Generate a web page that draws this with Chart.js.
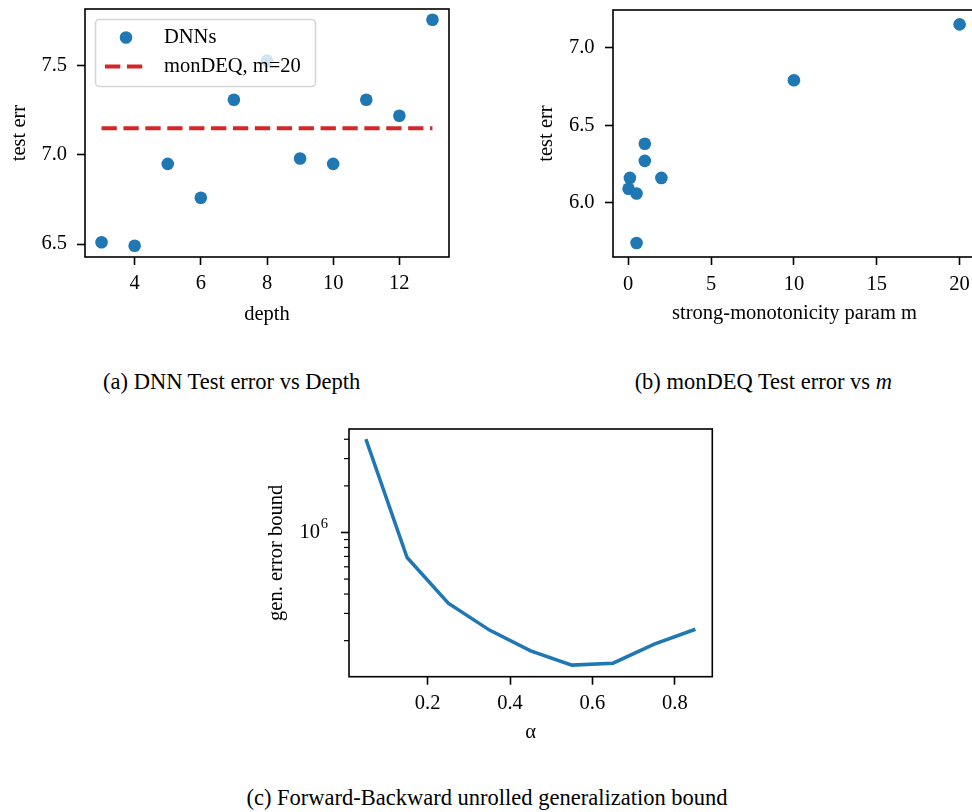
<!DOCTYPE html>
<html><head><meta charset="utf-8">
<script src="https://cdn.jsdelivr.net/npm/chart.js@4/dist/chart.umd.min.js"></script>
<style>
html,body{margin:0;padding:0;background:#fff;width:972px;height:812px;overflow:hidden;position:relative;}
canvas{position:absolute;}
.cap{position:absolute;font-family:'Liberation Serif','Times New Roman',serif;font-size:22.5px;line-height:22.5px;white-space:nowrap;transform:translateX(-50%);color:#000;}
</style></head><body>
<canvas id="ca" width="460" height="340" style="left:0;top:0"></canvas>
<canvas id="cb" width="470" height="340" style="left:520px;top:0"></canvas>
<canvas id="cc" width="470" height="340" style="left:260px;top:420px"></canvas>
<div class="cap" style="left:231.7px;top:370.5px">(a) DNN Test error vs Depth</div>
<div class="cap" style="left:763.3px;top:370.5px">(b) monDEQ Test error vs <i>m</i></div>
<div class="cap" style="left:487px;top:787px">(c) Forward-Backward unrolled generalization bound</div>
<script>
// ---- (a) DNN test error vs depth ----
const depths = [3, 4, 5, 6, 7, 8, 9, 10, 11, 12, 13];
const dnnErr = [6.51, 6.49, 6.95, 6.76, 7.31, 7.53, 6.98, 6.95, 7.31, 7.22, 7.76];
const mondeqM20Err = 7.15;
const xTicksA = [4, 6, 8, 10, 12];
const yTicksA = [6.5, 7.0, 7.5];

// ---- (b) monDEQ test error vs m ----
const mParams = [20, 10, 1, 1, 0.1, 2, 0.02, 0.5, 0.5];
const mondeqErr = [7.15, 6.79, 6.38, 6.27, 6.16, 6.16, 6.09, 6.06, 5.74];
const xTicksB = [0, 5, 10, 15, 20];
const yTicksB = [6.0, 6.5, 7.0];

// ---- (c) generalization bound vs alpha ----
const alphas = [0.05, 0.15, 0.25, 0.35, 0.45, 0.55, 0.65, 0.75, 0.85];
const genBound = [4.01e6, 6.89e5, 3.49e5, 2.34e5, 1.72e5, 1.39e5, 1.43e5, 1.90e5, 2.37e5];
const xTicksC = [0.2, 0.4, 0.6, 0.8];
const yMajorTicksC = [1e6];
const yMinorTicksC = [2e5, 3e5, 4e5, 5e5, 6e5, 7e5, 8e5, 9e5, 2e6, 3e6, 4e6];

const BLUE = '#1f77b4', RED = '#d62728';
const FS = 20.5;
Chart.defaults.font.family = "'Liberation Serif','Times New Roman',serif";
Chart.defaults.font.size = FS;
Chart.defaults.color = '#000';

function axis(o) {
  return {
    type: o.type || 'linear',
    min: o.min, max: o.max,
    afterBuildTicks: s => { s.ticks = o.ticks.map(v => ({ value: v })); },
    afterFit: s => {
      if (o.horiz) s.height = o.size; else s.width = o.size;
      s.paddingTop = 0; s.paddingBottom = 0; s.paddingLeft = 0; s.paddingRight = 0;
    },
    grid: { display: true, drawOnChartArea: false, drawTicks: true, tickLength: 8, tickWidth: 1.6, tickColor: '#000' },
    border: { display: false },
    ticks: { color: '#000', font: { size: FS }, padding: o.pad, autoSkip: false, maxRotation: 0, callback: o.cb },
    title: { display: true, text: o.title, color: '#000', font: { size: FS }, padding: o.horiz ? { top: 0, bottom: o.tpad } : { top: o.tpad, bottom: 0 } }
  };
}

const framePlugin = {
  id: 'frame',
  afterDatasetsDraw(chart) {
    const a = chart.chartArea, ctx = chart.ctx;
    ctx.save();
    ctx.strokeStyle = '#000'; ctx.lineWidth = 1.6;
    ctx.strokeRect(a.left, a.top, a.right - a.left, a.bottom - a.top);
    ctx.restore();
  }
};

const legendPlugin = {
  id: 'legendA',
  afterDatasetsDraw(chart) {
    const a = chart.chartArea, ctx = chart.ctx;
    const x0 = a.left + 10.5, y0 = a.top + 10.5, w = 220, h = 67;
    ctx.save();
    ctx.beginPath();
    ctx.roundRect(x0, y0, w, h, 4);
    ctx.fillStyle = 'rgba(255,255,255,0.8)';
    ctx.fill();
    ctx.strokeStyle = 'rgba(204,204,204,0.8)';
    ctx.lineWidth = 1.6;
    ctx.stroke();
    const ds = chart.data.datasets;
    // scatter handle
    ctx.beginPath();
    ctx.arc(x0 + 30.5, y0 + 18, 6.3, 0, Math.PI * 2);
    ctx.fillStyle = ds[0].backgroundColor;
    ctx.fill();
    // dashed handle
    ctx.beginPath();
    ctx.setLineDash(ds[1].borderDash);
    ctx.strokeStyle = ds[1].borderColor;
    ctx.lineWidth = ds[1].borderWidth;
    ctx.moveTo(x0 + 9.5, y0 + 47);
    ctx.lineTo(x0 + 51.5, y0 + 47);
    ctx.stroke();
    ctx.setLineDash([]);
    ctx.fillStyle = '#000';
    ctx.font = FS + "px 'Liberation Serif','Times New Roman',serif";
    ctx.textBaseline = 'middle';
    ctx.textAlign = 'left';
    ctx.fillText(ds[0].label, x0 + 68.5, y0 + 18);
    ctx.fillText(ds[1].label, x0 + 68.5, y0 + 47);
    ctx.restore();
  }
};

new Chart(document.getElementById('ca'), {
  type: 'scatter',
  data: {
    datasets: [
      { label: 'DNNs', data: depths.map((d, i) => ({ x: d, y: dnnErr[i] })), backgroundColor: BLUE, borderWidth: 0, pointRadius: 6.3, pointHoverRadius: 6.3 },
      { type: 'line', label: 'monDEQ, m=20', data: [{ x: depths[0], y: mondeqM20Err }, { x: depths[depths.length - 1], y: mondeqM20Err }],
        borderColor: RED, borderWidth: 4.1, borderDash: [15.3, 6.6], pointRadius: 0, fill: false, borderCapStyle: 'butt' }
    ]
  },
  options: {
    responsive: false, animation: false, devicePixelRatio: 1,
    layout: { padding: { top: 9, right: 11, left: 0, bottom: 0 } },
    plugins: { legend: { display: false }, tooltip: { enabled: false } },
    scales: {
      x: axis({ horiz: true, size: 83, min: 2.5, max: 13.5, ticks: xTicksA, pad: 6.4, tpad: 13.1, title: 'depth', cb: v => String(v) }),
      y: axis({ size: 85, min: 6.427, max: 7.82, ticks: yTicksA, pad: 10, tpad: 7.5, title: 'test err', cb: v => v.toFixed(1) })
    }
  },
  plugins: [framePlugin, legendPlugin]
});

new Chart(document.getElementById('cb'), {
  type: 'scatter',
  data: {
    datasets: [
      { label: 'monDEQ', data: mParams.map((m, i) => ({ x: m, y: mondeqErr[i] })), backgroundColor: BLUE, borderWidth: 0, pointRadius: 6.3, pointHoverRadius: 6.3 }
    ]
  },
  options: {
    responsive: false, animation: false, devicePixelRatio: 1,
    layout: { padding: { top: 10, right: 14, left: 0, bottom: 0 } },
    plugins: { legend: { display: false }, tooltip: { enabled: false } },
    scales: {
      x: axis({ horiz: true, size: 83, min: -0.92, max: 20.99, ticks: xTicksB, pad: 7.2, tpad: 14.1, title: 'strong-monotonicity param m', cb: v => String(v) }),
      y: axis({ size: 93, min: 5.65, max: 7.243, ticks: yTicksB, pad: 10.5, tpad: 14.1, title: 'test err', cb: v => v.toFixed(1) })
    }
  },
  plugins: [framePlugin]
});

const logExtras = {
  id: 'logExtras',
  afterDraw(chart) {
    const ys = chart.scales.y, a = chart.chartArea, ctx = chart.ctx;
    ctx.save();
    ctx.strokeStyle = '#000'; ctx.lineWidth = 1.2;
    yMinorTicksC.forEach(v => {
      const y = ys.getPixelForValue(v);
      ctx.beginPath(); ctx.moveTo(a.left - 5, y); ctx.lineTo(a.left, y); ctx.stroke();
    });
    // superscript exponent for the 10^6 label
    ctx.fillStyle = '#000';
    ctx.font = "14.5px 'Liberation Serif','Times New Roman',serif";
    ctx.textBaseline = 'alphabetic'; ctx.textAlign = 'left';
    yMajorTicksC.forEach(v => {
      const y = ys.getPixelForValue(v);
      ctx.fillText(String(Math.round(Math.log10(v))), a.left - 8 - 21 + 0.7, y - 4);
    });
    ctx.restore();
  }
};

new Chart(document.getElementById('cc'), {
  type: 'scatter',
  data: {
    datasets: [
      { label: 'bound', data: alphas.map((a, i) => ({ x: a, y: genBound[i] })), showLine: true, borderColor: BLUE, borderWidth: 3.5, pointRadius: 0, fill: false, tension: 0 }
    ]
  },
  options: {
    responsive: false, animation: false, devicePixelRatio: 1,
    layout: { padding: { top: 9, right: 17.7, left: 0, bottom: 0 } },
    plugins: { legend: { display: false }, tooltip: { enabled: false } },
    scales: {
      x: axis({ horiz: true, size: 83.3, min: 0.009, max: 0.891, ticks: xTicksC, pad: 6.3, tpad: 15.2, title: 'α', cb: v => v.toFixed(1) }),
      y: axis({ type: 'logarithmic', size: 89, min: 1.17e5, max: 4.66e6, ticks: yMajorTicksC, pad: 21, tpad: 4.7, title: 'gen. error bound', cb: v => (v === 1e6 ? '10' : '') })
    }
  },
  plugins: [framePlugin, logExtras]
});
</script>
</body></html>
